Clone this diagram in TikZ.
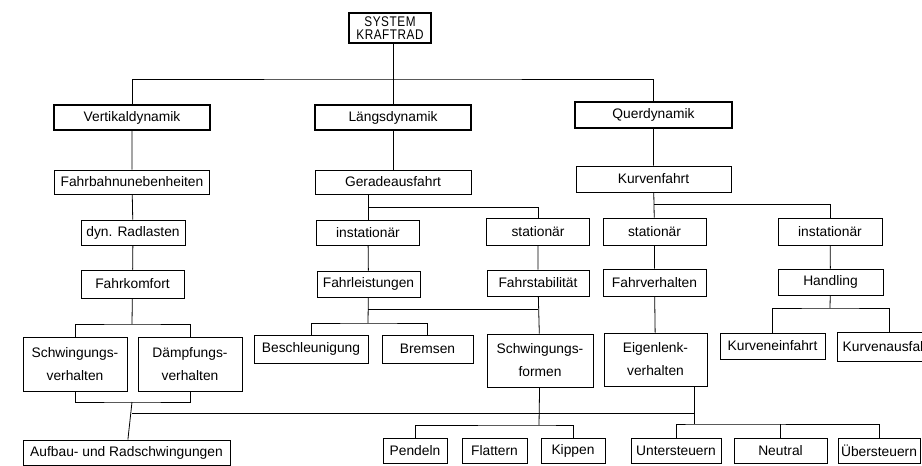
\documentclass[tikz,border=0pt]{standalone}
\usepackage{fontspec}
\setmainfont{Liberation Sans}
\newfontfamily\sysfont{Liberation Sans}[FakeStretch=0.84, LetterSpace=4]

\begin{document}
\begin{tikzpicture}[x=1pt, y=-1pt, line width=0.8pt,
		box/.style={draw, rectangle, inner sep=0pt, minimum height=25pt, font=\fontsize{13.8}{23}\selectfont, align=center},
		head/.style={box, line width=1.6pt},
		sysbox/.style={head, font=\sysfont\fontsize{14}{13.5}\selectfont}
		]
		\useasboundingbox (0,0) rectangle (922,466);
		
		\node [sysbox, minimum width=82pt, minimum height=30pt](sys) at (390,28) {SYSTEM\\KRAFTRAD};
		
		\node [head, minimum width=156pt](vert) at (132,117.5) {Vertikaldynamik};
		\node [head, minimum width=156pt](laengs) at (393,117.5) {Längsdynamik};
		\node [head, minimum width=157pt, minimum height=26pt](quer) at (653.5,115) {Querdynamik};
		
		\node [box, minimum width=155pt, minimum height=24pt](fahrbahn) at (132,182) {Fahrbahnunebenheiten};
		\node [box, minimum width=156pt, minimum height=24pt](gerade) at (393,182) {Geradeausfahrt};
		\node [box, minimum width=155pt, minimum height=26pt](kurve) at (653.5,179) {Kurvenfahrt};
		
		\node [box, minimum width=104pt](radlast) at (133,232.5) {dyn. Radlasten};
		\node [box, minimum width=103pt](instL) at (368,232.5) {instationär};
		\node [box, minimum width=103pt, minimum height=27pt](statL) at (538,231.5) {stationär};
		\node [box, minimum width=103pt, minimum height=27pt](statQ) at (654.5,231.5) {stationär};
		\node [box, minimum width=104pt, minimum height=27pt](instQ) at (830,231.5) {instationär};
		
		\node [box, minimum width=103pt, minimum height=28pt](komfort) at (132.5,284) {Fahrkomfort};
		\node [box, minimum width=103pt, minimum height=26pt](leist) at (368.5,284) {Fahrleistungen};
		\node [box, minimum width=102pt, minimum height=26pt](stab) at (538,283) {Fahrstabilität};
		\node [box, minimum width=103pt, minimum height=27pt](verh) at (654.5,282.5) {Fahrverhalten};
		\node [box, minimum width=105pt, minimum height=26pt](handl) at (830.5,282) {Handling};
		
		\node [box, minimum width=104pt, minimum height=54pt](schw) at (75,364) {Schwingungs-\\verhalten};
		\node [box, minimum width=104pt, minimum height=54pt](daempf) at (190,364) {Dämpfungs-\\verhalten};
		\node [box, minimum width=114pt, minimum height=28pt](beschl) at (311,349) {Beschleunigung};
		\node [box, minimum width=91pt, minimum height=28pt](bremsen) at (427.5,349) {Bremsen};
		\node [box, minimum width=106pt, minimum height=53pt](formen) at (540,360.5) {Schwingungs-\\formen};
		\node [box, minimum width=103pt, minimum height=53pt](eigen) at (655.5,359.5) {Eigenlenk-\\verhalten};
		\node [box, minimum width=105pt, minimum height=26pt](ein) at (772.5,346) {Kurveneinfahrt};
		\node [box, minimum width=105pt, minimum height=29pt](aus) at (889.5,346.5) {Kurvenausfahrt};
		
		\node [box, minimum width=207pt](aufbau) at (126.5,452.5) {Aufbau- und Radschwingungen};
		\node [box, minimum width=64pt](pendeln) at (415,450.5) {Pendeln};
		\node [box, minimum width=65pt](flattern) at (494.5,450.5) {Flattern};
		\node [box, minimum width=64pt](kippen) at (573,450.5) {Kippen};
		\node [box, minimum width=90pt](unter) at (676,450.5) {Untersteuern};
		\node [box, minimum width=93pt](neutral) at (780.5,450.5) {Neutral};
		\node [box, minimum width=82pt](ueber) at (879,450.5) {Übersteuern};
		
		\coordinate (j0) at (393,79);
		\coordinate (jg) at (368,207);
		\coordinate (js) at (368,309);
		\coordinate (jl) at (368,323);
		\coordinate (jk) at (654,204);
		\coordinate (jh) at (830,308);
		\coordinate (jf) at (132,324);
		\coordinate (jv) at (132,402);
		\coordinate (jb) at (132,413);
		\coordinate (jp) at (539,425);
		\coordinate (je) at (694,424);
		
		\draw (laengs) -- (laengs |- sys.south);
		\draw (vert) |- (j0) -| (quer);
		
		\draw (vert) -- (fahrbahn) -- (radlast) -- (komfort);
		\draw (komfort) -- (jf);
		\draw (schw) |- (jf) -| (daempf);
		\draw (schw) |- (jv) -| (daempf);
		\draw (jv) -- (aufbau);
		\draw (jb) -- (jb -| je);
		
		\draw (laengs) -- (gerade);
		\draw (gerade.south -| jg) -- (instL);
		\draw (jg) -| (statL);
		\draw (instL) -- (leist);
		\draw (leist) -- (jl);
		\draw (beschl) |- (jl) -| (bremsen);
		\draw (js) -- (js -| stab);
		\draw (statL) -- (stab) -- (formen);
		\draw (formen) -- (jp);
		\draw (pendeln) |- (jp) -| (kippen);
		
		\draw (quer) -- (kurve) -- (statQ) -- (verh) -- (eigen);
		\draw (jk) -| (instQ);
		\draw (instQ) -- (handl) -- (jh);
		\draw (ein) |- (jh) -| (aus);
		\draw (eigen.south -| je) -- (je);
		\draw (unter) |- (je) -| (ueber);
		\draw (neutral) -- (neutral |- je);
		
	\end{tikzpicture}
\end{document}
